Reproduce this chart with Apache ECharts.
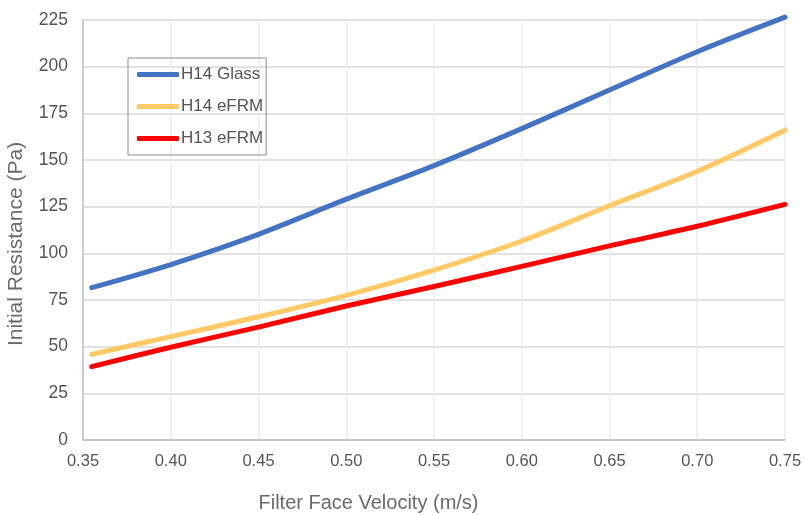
<!DOCTYPE html>
<html>
<head>
<meta charset="utf-8">
<script src="https://cdn.jsdelivr.net/npm/echarts@6/dist/echarts.min.js"></script>
<style>
html,body{margin:0;padding:0;background:#fff;}
#chart{width:804px;height:515px;}
</style>
</head>
<body>
<div id="chart"></div>
<script>
const velocity = [0.355, 0.40, 0.45, 0.50, 0.55, 0.60, 0.65, 0.70, 0.75];
const h14Glass = [81.6, 94, 110.2, 129, 147, 166.8, 187.5, 208, 226.5];
const h14eFRM = [45.9, 55.4, 66, 77.5, 91, 106.6, 125.5, 144, 166];
const h13eFRM = [39.3, 49.7, 60.5, 71.8, 82.2, 93, 104, 114.5, 126.2];
const seriesNames = ['H14 Glass', 'H14 eFRM', 'H13 eFRM'];
const seriesColors = ['#4472C4', '#FFC965', '#FF0000'];

function pairs(ys){ return velocity.map((x,i)=>[x, ys[i]]); }
const allData = [h14Glass, h14eFRM, h13eFRM];

const font = 'Liberation Sans, Helvetica, Arial, sans-serif';
const chart = echarts.init(document.getElementById('chart'), null, {renderer:'canvas'});
chart.setOption({
  animation: false,
  backgroundColor: '#fff',
  textStyle: {fontFamily: font},
  grid: {left: 83, right: 19, top: 20, bottom: 75, containLabel: false, outerBoundsMode: 'none'},
  legend: {
    orient: 'vertical',
    left: 128, top: 58,
    data: seriesNames,
    icon: 'roundRect',
    itemWidth: 42, itemHeight: 5,
    itemGap: 15,
    padding: [8, 3, 8, 9],
    borderColor: '#8c8c8c', borderWidth: 1,
    textStyle: {fontSize: 17, color: '#555', fontFamily: font, padding: [0,0,0,-3]}
  },
  xAxis: {
    type: 'value', min: 0.35, max: 0.75, interval: 0.05,
    name: 'Filter Face Velocity (m/s)', nameLocation: 'middle', nameGap: 53,
    nameTextStyle: {fontSize: 20, color: '#6b6b6b', fontFamily: font, padding: [0, 131, 0, 0]},
    axisLine: {show: true, lineStyle: {color: '#bfbfbf', width: 1.5}},
    axisTick: {show: false},
    axisLabel: {fontSize: 16.5, color: '#555', margin: 13, formatter: v => v.toFixed(2)},
    splitLine: {show: true, lineStyle: {color: '#ececec', width: 1.5}}
  },
  yAxis: {
    type: 'value', min: 0, max: 225, interval: 25,
    name: 'Initial Resistance (Pa)', nameLocation: 'middle', nameGap: 56,
    nameTextStyle: {fontSize: 21, color: '#6b6b6b', fontFamily: font, padding: [0, 28, 0, 0]},
    axisLine: {show: true, lineStyle: {color: '#bfbfbf', width: 1.5}},
    axisTick: {show: false},
    axisLabel: {fontSize: 17.5, color: '#555', margin: 15},
    splitLine: {show: true, lineStyle: {color: '#d9d9d9', width: 1.5}}
  },
  series: seriesNames.map((n,i)=>({
    name: n, type: 'line', smooth: 0.3, showSymbol: false, symbol: 'none',
    data: pairs(allData[i]),
    color: seriesColors[i],
    lineStyle: {width: 5, color: seriesColors[i], cap: 'round', join: 'round'},
    clip: false
  }))
});
</script>
</body>
</html>
